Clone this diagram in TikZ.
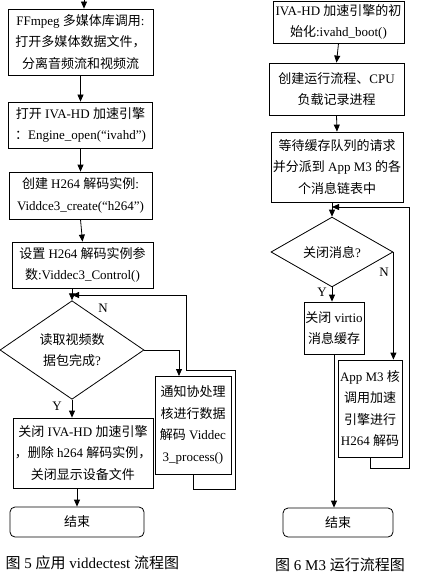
\documentclass[tikz,border=0pt]{standalone}
\usepackage{fontspec}
\setmainfont{Liberation Serif}
\newfontfamily\cjk{Noto Sans CJK SC}
\newcommand{\zw}[1]{{\cjk #1}}
\newcommand{\boxfont}{\fontsize{13}{21.5}\selectfont}
\usetikzlibrary{
    arrows.meta,
    shapes.geometric
}

\begin{document}
\begin{tikzpicture}[x=1pt, y=-1pt, >={Triangle[length=7pt,width=6pt]}, line width=0.8pt]
  \tikzset{
    box/.style={draw, rectangle, align=center, inner sep=1pt, font=\boxfont},
    decide/.style={draw, diamond, align=center, inner sep=0pt, font=\boxfont},
    stopbox/.style={draw, rectangle, rounded corners=5pt, font=\boxfont},
    yn/.style={font=\boxfont},
    caption/.style={font=\fontsize{15}{18}\selectfont}
  }
  \useasboundingbox (0,0) rectangle (434,583);

  % Left chart: viddectest
  \coordinate (top1) at (84,0);
  \node[box, minimum width=145, minimum height=66] (ffm) at (80.5,42)
    {FFmpeg \zw{多媒体库调用}:\\ \zw{打开多媒体数据文件，}\\ \zw{分离音频流和视频流}};
  \node[box, minimum width=144, minimum height=46] (eng) at (80.5,125)
    {\zw{打开} IVA-HD \zw{加速引擎}\\ \zw{：}Engine\_open(“ivahd”)};
  \node[box, minimum width=143, minimum height=47] (mk) at (80.5,195.5)
    {\zw{创建} H264 \zw{解码实例}:\\ Viddce3\_create(“h264”)};
  \node[box, minimum width=141, minimum height=46] (par) at (82.5,265)
    {\zw{设置} H264 \zw{解码实例参}\\ \zw{数}:Viddec3\_Control()};
  \node[decide, minimum width=144, minimum height=86] (rd) at (72,350)
    {\zw{读取视频数}\\ \zw{据包完成}?};
  \node[box, minimum width=76, minimum height=98] (proc) at (193,425)
    {\zw{通知协处理}\\ \zw{核进行数据}\\ \zw{解码} Viddec\\ 3\_process()};
  \node[box, minimum width=140, minimum height=70] (cls) at (83,453)
    {\zw{关闭} IVA-HD \zw{加速引擎}\\ \zw{，删除} h264 \zw{解码实例，}\\ \zw{关闭显示设备文件}};
  \node[stopbox, minimum width=134, minimum height=30] (end1) at (77,522) {\zw{结束}};

  \coordinate (nIn) at (179,376);
  \coordinate (lA) at (235,370);
  \coordinate (lB) at (186,295);
  \coordinate (lJoin) at (72,295);

  \draw[->] (top1) -- (top1 |- ffm.north);
  \draw[->] (ffm.south) -- (eng.north);
  \draw[->] (eng.south) -- (mk.north);
  \draw[->] (mk.south) -- (par.north);
  \draw[->] (rd.north |- par.south) -- (rd.north);
  \draw[->] (rd.east) -| (nIn);
  \draw[->] (rd.south) -- (rd.south |- cls.north);
  \draw[->] (end1.north |- cls.south) -- (end1.north);
  \draw[->] (proc.south) -- ++(0,15) -| (lA) -| (lB) -- (lJoin);

  \node[yn] (nL) at (103,308) {N};
  \node[yn] (yL) at (57,406) {Y};

  \node[caption, anchor=west] (cap5) at (2,563)
    {\zw{图} 5 \zw{应用} viddectest \zw{流程图}};

  % Right chart: M3
  \node[box, minimum width=131, minimum height=42] (boot) at (338.5,22)
    {IVA-HD \zw{加速引擎的初}\\ \zw{始化}:ivahd\_boot()};
  \node[box, minimum width=135, minimum height=52] (run) at (336.5,89)
    {\zw{创建运行流程、}CPU\\ \zw{负载记录进程}};
  \node[box, minimum width=132, minimum height=70] (wait) at (337,167)
    {\zw{等待缓存队列的请求}\\ \zw{并分派到} App M3 \zw{的各}\\ \zw{个消息链表中}};
  \node[decide, minimum width=122, minimum height=58] (off) at (332,252)
    {\zw{关闭消息}?};
  \node[box, minimum width=60, minimum height=52] (buf) at (334,328)
    {\zw{关闭} virtio\\ \zw{消息缓存}};
  \node[box, minimum width=64, minimum height=97] (dec) at (370,408.5)
    {App M3 \zw{核}\\ \zw{调用加速}\\ \zw{引擎进行}\\ H264 \zw{解码}};
  \node[stopbox, minimum width=110, minimum height=29] (end2) at (338,522.5) {\zw{结束}};

  \coordinate (rA) at (409,207);
  \coordinate (rJoin) at (332,207);

  \draw[->] (boot.south) -- (run.north);
  \draw[->] (run.south) -- (wait.north);
  \draw[->] (off.north |- wait.south) -- (off.north);
  \draw[->] (off.south) -- (off.south |- buf.north);
  \draw[->] (off.east) -- (off.east |- dec.north);
  \draw[->] (buf.south) -- (buf.south |- end2.north);
  \draw[->] (dec.south) -- ++(0,11) -| (rA) -- (rJoin);

  \node[yn] (nR) at (384,272) {N};
  \node[yn] (yR) at (322,292) {Y};

  \node[caption] (cap6) at (340,565) {\zw{图} 6 M3 \zw{运行流程图}};
\end{tikzpicture}
\end{document}
